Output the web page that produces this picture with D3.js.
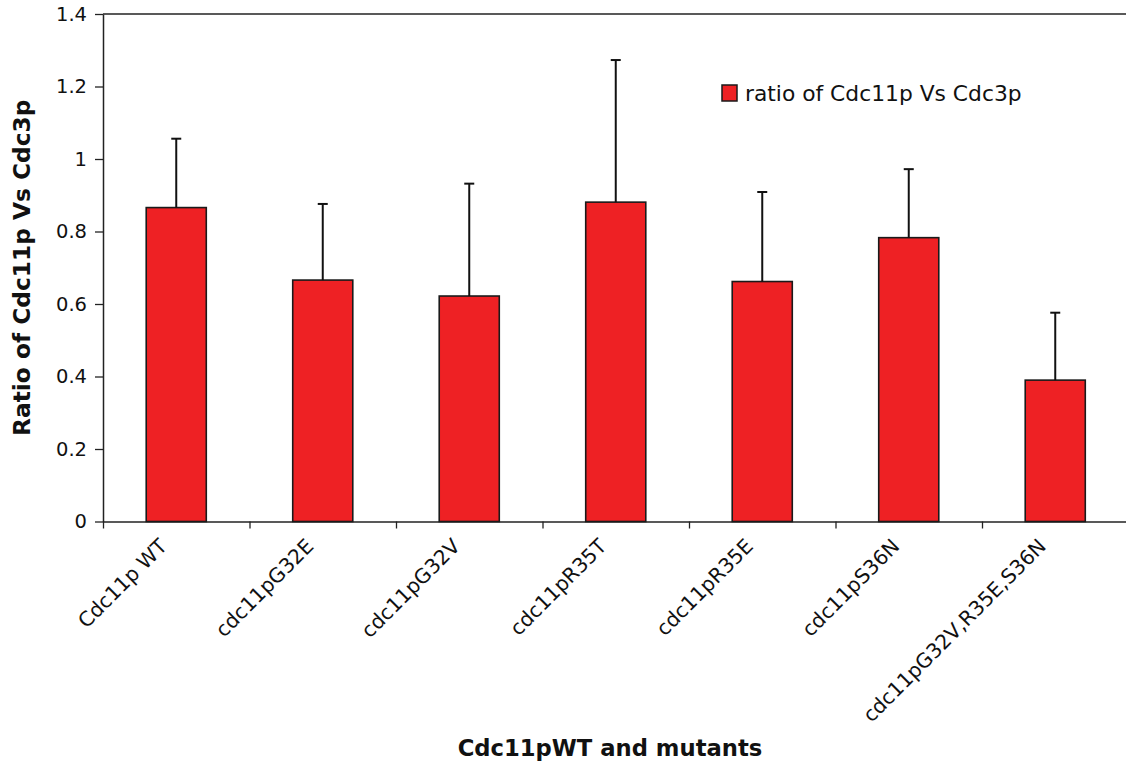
<!DOCTYPE html>
<html>
<head>
<meta charset="utf-8">
<script src="https://cdn.jsdelivr.net/npm/d3@7"></script>
<style>
  body { margin: 0; background: #fff; }
  svg { font-family: "DejaVu Sans", Verdana, sans-serif; }
</style>
</head>
<body>
<svg width="1126" height="765"></svg>
<script>
// values
var categories = ["Cdc11p WT", "cdc11pG32E", "cdc11pG32V", "cdc11pR35T",
                  "cdc11pR35E", "cdc11pS36N", "cdc11pG32V,R35E,S36N"];
var ratios = [0.866, 0.666, 0.622, 0.881, 0.662, 0.783, 0.390];
var errorTops = [1.056, 0.876, 0.932, 1.273, 0.909, 0.972, 0.576];
var yTicks = [0, 0.2, 0.4, 0.6, 0.8, 1, 1.2, 1.4];
var seriesName = "ratio of Cdc11p Vs Cdc3p";

var svg = d3.select("svg");
var plotLeft = 103, plotRight = 1128.5, plotTop = 14, plotBottom = 521.5;

var x = d3.scaleBand().domain(categories).range([plotLeft, plotRight]).padding(0);
var xEdges = d3.scaleLinear().domain([0, categories.length]).range([plotLeft, plotRight]);
var y = d3.scaleLinear().domain([0, 1.4]).range([plotBottom, plotTop]);
var barW = x.bandwidth() * 0.41;

// top border of the plot area
svg.append("line")
    .attr("x1", plotLeft).attr("x2", plotRight)
    .attr("y1", y(1.4)).attr("y2", y(1.4))
    .attr("stroke", "#222").attr("stroke-width", 1.5);

// y axis
var yAxis = svg.append("g")
    .attr("transform", "translate(" + plotLeft + ",0)")
    .call(d3.axisLeft(y).tickValues(yTicks).tickSize(8).tickSizeOuter(0)
        .tickFormat(function (d) { return String(+d.toFixed(1)); }));
yAxis.select(".domain").attr("stroke", "#222").attr("stroke-width", 1.5);
yAxis.selectAll(".tick line").attr("stroke", "#222").attr("stroke-width", 1.3);
yAxis.selectAll(".tick text")
    .attr("font-size", 19.5).attr("fill", "#111")
    .attr("x", -16).attr("font-family", "DejaVu Sans");

// x axis (ticks at category boundaries)
var xAxis = svg.append("g")
    .attr("transform", "translate(0," + plotBottom + ")")
    .call(d3.axisBottom(xEdges).tickValues(d3.range(categories.length + 1))
        .tickSize(7).tickSizeOuter(0).tickFormat(""));
xAxis.select(".domain").attr("stroke", "#222").attr("stroke-width", 1.5);
xAxis.selectAll(".tick line").attr("stroke", "#222").attr("stroke-width", 1.3);

// bars
svg.append("g").selectAll("rect")
    .data(categories)
    .enter()
    .append("rect")
    .attr("x", function (d) { return x(d) + x.bandwidth() / 2 - barW / 2; })
    .attr("y", function (d, i) { return y(ratios[i]); })
    .attr("width", barW)
    .attr("height", function (d, i) { return y(0) - y(ratios[i]); })
    .attr("fill", "#ee2124")
    .attr("stroke", "#1a1a1a")
    .attr("stroke-width", 1.6);

// error bars (upper only)
var err = svg.append("g").selectAll("g")
    .data(categories)
    .enter()
    .append("g")
    .attr("stroke", "#111")
    .attr("stroke-width", 2);
err.append("line")
    .attr("x1", function (d) { return x(d) + x.bandwidth() / 2; })
    .attr("x2", function (d) { return x(d) + x.bandwidth() / 2; })
    .attr("y1", function (d, i) { return y(ratios[i]); })
    .attr("y2", function (d, i) { return y(errorTops[i]); });
err.append("line")
    .attr("x1", function (d) { return x(d) + x.bandwidth() / 2 - 5; })
    .attr("x2", function (d) { return x(d) + x.bandwidth() / 2 + 5; })
    .attr("y1", function (d, i) { return y(errorTops[i]); })
    .attr("y2", function (d, i) { return y(errorTops[i]); });

// rotated category labels
svg.append("g").selectAll("text")
    .data(categories)
    .enter()
    .append("text")
    .attr("transform", function (d) {
        var cx = x(d) + x.bandwidth() / 2 - 8;
        return "translate(" + cx + "," + (plotBottom + 26) + ") rotate(-45)";
    })
    .attr("text-anchor", "end")
    .attr("font-size", 20.3)
    .attr("fill", "#111")
    .text(function (d) { return d; });

// axis titles
svg.append("text")
    .attr("transform", "translate(30," + (plotTop + plotBottom) / 2 + ") rotate(-90)")
    .attr("text-anchor", "middle")
    .attr("font-size", 23.3)
    .attr("font-weight", "bold")
    .attr("fill", "#111")
    .text("Ratio of Cdc11p Vs Cdc3p");

svg.append("text")
    .attr("x", 610)
    .attr("y", 756)
    .attr("text-anchor", "middle")
    .attr("font-size", 22.7)
    .attr("font-weight", "bold")
    .attr("fill", "#111")
    .text("Cdc11pWT and mutants");

// legend
var legend = svg.append("g").attr("transform", "translate(722,85)");
legend.append("rect")
    .attr("width", 15).attr("height", 16)
    .attr("fill", "#ee2124").attr("stroke", "#1a1a1a").attr("stroke-width", 1.5);
legend.append("text")
    .attr("x", 23).attr("y", 16)
    .attr("font-size", 21.8)
    .attr("fill", "#111")
    .text(seriesName);
</script>
</body>
</html>
